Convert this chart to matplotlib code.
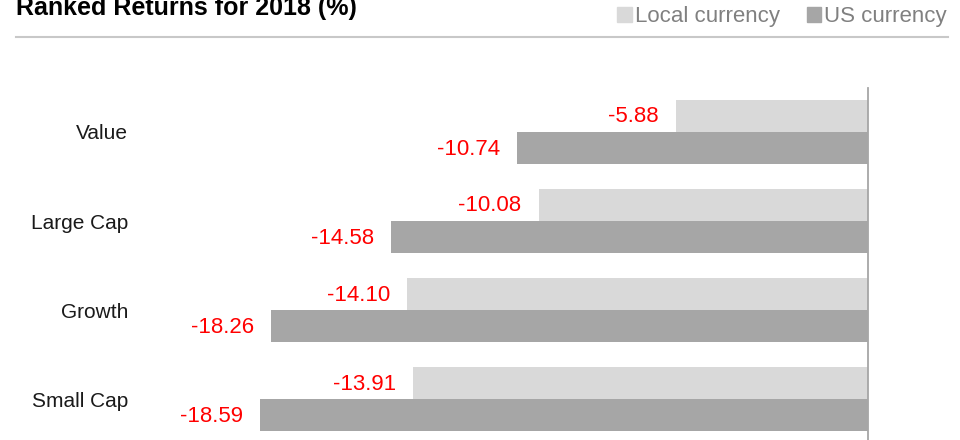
import matplotlib.pyplot as plt
from matplotlib.lines import Line2D
from matplotlib.patches import Patch
import numpy as np

plt.rcParams['font.family'] = ['Liberation Sans', 'DejaVu Sans']

categories = ["Value", "Large Cap", "Growth", "Small Cap"]
local_ret = [-5.88, -10.08, -14.10, -13.91]
us_ret = [-10.74, -14.58, -18.26, -18.59]

c_local = '#d9d9d9'
c_us = '#a6a6a6'

fig = plt.figure(figsize=(9.6, 4.4), dpi=100)
W, H = 960, 440
ax = fig.add_axes([149 / W, 0, 719 / W, 352 / H])

y = np.arange(len(categories))
h = 0.36
b1 = ax.barh(y - h / 2, local_ret, height=h, color=c_local, zorder=2)
b2 = ax.barh(y + h / 2, us_ret, height=h, color=c_us, zorder=2)

for bars, vals in [(b1, local_ret), (b2, us_ret)]:
    for bar, v in zip(bars, vals):
        ax.annotate(f"{v:.2f}", (v, bar.get_y() + bar.get_height() / 2),
                    xytext=(-17, -1), textcoords='offset pixels',
                    ha='right', va='center', color='#ff0000', fontsize=16)

ax.set_xlim(-22, 0)
ax.set_ylim(3.46, -0.494)
ax.set_yticks(y)
ax.set_yticklabels(categories, fontsize=15, color='#1a1a1a')
ax.tick_params(axis='y', length=0, pad=15)
ax.set_xticks([])
for s in ['top', 'left', 'bottom']:
    ax.spines[s].set_visible(False)
ax.spines['right'].set_color('#a6a6a6')
ax.spines['right'].set_linewidth(1.3)
ax.spines['right'].set_zorder(5)

fig.text(16 / W, 1 - 15 / H, "Ranked Returns for 2018 (%)", fontsize=18,
         fontweight='bold', ha='left', va='baseline', color='#000000')
fig.add_artist(Line2D([16 / W, 948 / W], [1 - 37 / H, 1 - 37 / H],
                      color='#c8c8c8', linewidth=1.5))

handles = [Patch(color=c_local, label='Local currency'),
           Patch(color=c_us, label='US currency')]
leg = fig.legend(handles=handles, loc='upper right', bbox_to_anchor=(947 / W, 1 - 6 / H),
                 ncol=2, frameon=False, fontsize=16, handlelength=0.65,
                 handleheight=0.65, handletextpad=0.15, columnspacing=1.2,
                 borderaxespad=0, borderpad=0)
for t in leg.get_texts():
    t.set_color('#808080')

fig.savefig('out.png', dpi=100)
